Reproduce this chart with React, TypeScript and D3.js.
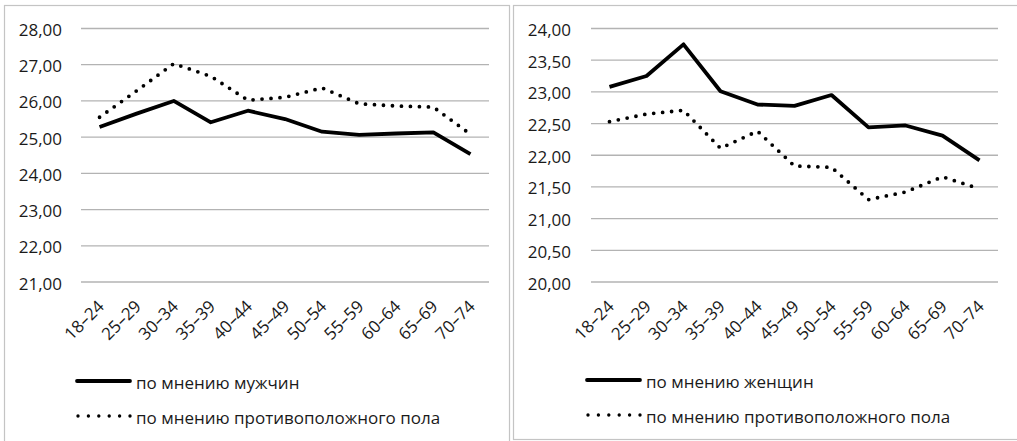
import * as d3 from "d3";

const ages = ["18–24", "25–29", "30–34", "35–39", "40–44", "45–49", "50–54", "55–59", "60–64", "65–69", "70–74"];

// left chart: ideal age of a man
const menOwn = [25.28, 25.65, 26.0, 25.41, 25.73, 25.5, 25.15, 25.06, 25.1, 25.13, 24.53];
const menOpposite = [25.55, 26.28, 27.03, 26.68, 26.02, 26.1, 26.36, 25.92, 25.86, 25.83, 25.08];
const leftTicks = [21, 22, 23, 24, 25, 26, 27, 28];

// right chart: ideal age of a woman
const womenOwn = [23.08, 23.25, 23.75, 23.01, 22.8, 22.78, 22.95, 22.44, 22.47, 22.31, 21.92];
const womenOpposite = [22.53, 22.65, 22.71, 22.11, 22.38, 21.83, 21.81, 21.3, 21.42, 21.66, 21.47];
const rightTicks = [20, 20.5, 21, 21.5, 22, 22.5, 23, 23.5, 24];

const FONT = "'Open Sans', sans-serif";
const TEXT = "#1a1a1a";
const GRID = "#b3b3b3";
const FS = 17;

type PanelProps = {
  frame: { x: number; y: number; w: number; h: number };
  labelRight: number;
  plotLeft: number;
  plotRight: number;
  ticks: number[];
  own: number[];
  opposite: number[];
  ownLabel: string;
  legendY: number;
};

const fmt = (v: number) => v.toFixed(2).replace(".", ",");

const Panel = ({ frame, labelRight, plotLeft, plotRight, ticks, own, opposite, ownLabel, legendY }: PanelProps) => {
  const top = 28.5;
  const bottom = 282;
  const x = d3.scalePoint<string>().domain(ages).range([plotLeft, plotRight]).padding(0.5);
  const y = d3
    .scaleLinear()
    .domain([d3.min(ticks) as number, d3.max(ticks) as number])
    .range([bottom, top]);

  const line = d3
    .line<number>()
    .x((_, i) => x(ages[i]) as number)
    .y((d) => y(d));

  const legX = plotLeft - 4;

  return (
    <g>
      <rect x={frame.x} y={frame.y} width={frame.w} height={frame.h} fill="#fff" stroke="#c4c4c4" strokeWidth={1.2} />
      {ticks.map((t) => (
        <g key={t}>
          <line x1={plotLeft} x2={plotRight} y1={y(t)} y2={y(t)} stroke={GRID} strokeWidth={1.3} />
          <text x={labelRight} y={y(t) + 1} textAnchor="end" dominantBaseline="central" fontSize={FS} fill={TEXT}>
            {fmt(t)}
          </text>
        </g>
      ))}
      {ages.map((a) => {
        const tx = (x(a) as number) + 1;
        const ty = 303;
        return (
          <text
            key={a}
            x={tx}
            y={ty}
            transform={`rotate(-45 ${tx} ${ty})`}
            textAnchor="end"
            dominantBaseline="central"
            fontSize={FS}
            fill={TEXT}
          >
            {a}
          </text>
        );
      })}
      <path d={line(opposite) ?? ""} fill="none" stroke="#000" strokeWidth={3.8} strokeLinecap="round" strokeDasharray="0 9" />
      <path d={line(own) ?? ""} fill="none" stroke="#000" strokeWidth={3.8} strokeLinejoin="round" />

      <line x1={legX} x2={legX + 53} y1={legendY} y2={legendY} stroke="#000" strokeWidth={3.8} strokeLinecap="round" />
      <text x={legX + 59} y={legendY + 1} dominantBaseline="central" fontSize={FS} fill={TEXT}>
        {ownLabel}
      </text>
      <line
        x1={legX + 1}
        x2={legX + 53}
        y1={legendY + 35}
        y2={legendY + 35}
        stroke="#000"
        strokeWidth={3.4}
        strokeLinecap="round"
        strokeDasharray="0 10.4"
      />
      <text x={legX + 59} y={legendY + 36} dominantBaseline="central" fontSize={FS} fill={TEXT}>
        по мнению противоположного пола
      </text>
    </g>
  );
};

export default function App() {
  return (
    <svg
      width={1017}
      height={441}
      style={{ position: "absolute", left: 0, top: 0, background: "#fff", fontFamily: FONT, fontWeight: 500 }}
    >
      <Panel
        frame={{ x: 4.5, y: 5.5, w: 505, h: 445 }}
        labelRight={62}
        plotLeft={81}
        plotRight={489}
        ticks={leftTicks}
        own={menOwn}
        opposite={menOpposite}
        ownLabel="по мнению мужчин"
        legendY={381}
      />
      <Panel
        frame={{ x: 513.5, y: 5.5, w: 515, h: 434 }}
        labelRight={571}
        plotLeft={591}
        plotRight={998}
        ticks={rightTicks}
        own={womenOwn}
        opposite={womenOpposite}
        ownLabel="по мнению женщин"
        legendY={380}
      />
    </svg>
  );
}
